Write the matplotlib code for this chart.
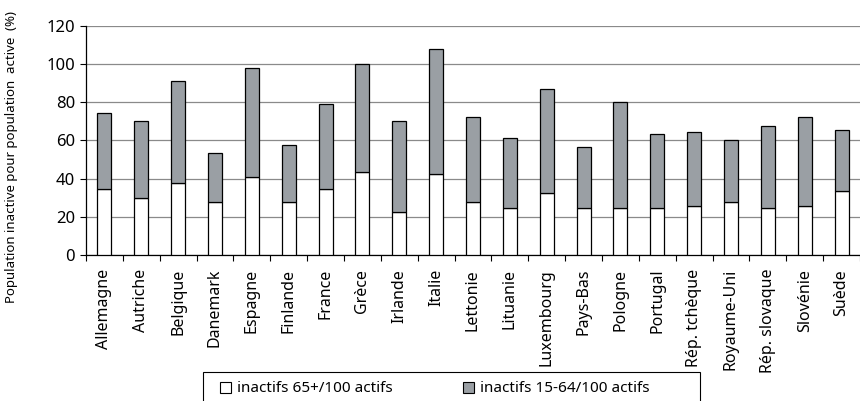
import matplotlib
matplotlib.use("Agg")
import matplotlib.pyplot as plt
from matplotlib.patches import Patch, Rectangle
import numpy as np

plt.rcParams['font.family'] = ['Noto Sans', 'DejaVu Sans']

countries = ["Allemagne", "Autriche", "Belgique", "Danemark", "Espagne", "Finlande",
             "France", "Grèce", "Irlande", "Italie", "Lettonie", "Lituanie",
             "Luxembourg", "Pays-Bas", "Pologne", "Portugal", "Rép. tchèque",
             "Royaume-Uni", "Rép. slovaque", "Slovénie", "Suède"]
# inactive people per 100 active, by age group
inactifs_65 = [34.4, 29.8, 37.8, 27.7, 41.0, 27.7, 34.4, 43.3, 22.3, 42.4, 27.7,
               24.4, 32.3, 24.4, 24.4, 24.4, 25.5, 27.7, 24.4, 25.5, 33.3]
total = [74.1, 70.0, 91.2, 53.2, 97.7, 57.7, 78.8, 100.1, 70.0, 107.6, 72.2,
         61.0, 86.7, 56.7, 79.9, 63.3, 64.4, 60.0, 67.7, 72.2, 65.6]
inactifs_15_64 = [t - a for t, a in zip(total, inactifs_65)]
series_labels = ["inactifs 65+/100 actifs", "inactifs 15-64/100 actifs"]

yticks = [0, 20, 40, 60, 80, 100, 120]
grey = "#9a9fa4"

W, H = 860, 401
fig = plt.figure(figsize=(W / 100, H / 100), dpi=100)
ax = fig.add_axes([86 / W, 1 - 255 / H, 1 - 86 / W, (255 - 25.7) / H])

x = np.arange(len(countries))
w = 0.38
ax.bar(x, inactifs_65, width=w, color="white", edgecolor="black", linewidth=0.9, zorder=3)
ax.bar(x, inactifs_15_64, width=w, bottom=inactifs_65, color=grey, edgecolor="black",
       linewidth=0.9, zorder=3)

ax.set_ylim(0, 120)
ax.set_xlim(-0.5, len(countries) - 0.5)
ax.set_yticks(yticks)
ax.yaxis.grid(True, color="#8a8a8a", linewidth=0.9, zorder=0)
ax.tick_params(axis="y", labelsize=12, length=4, width=0.8, direction="out", pad=4)

# tick marks between categories, labels centred on the bars
ax.set_xticks(np.arange(len(countries) + 1) - 0.5)
ax.set_xticklabels([])
ax.set_xticks(x, minor=True)
ax.set_xticklabels(countries, minor=True, rotation=90, fontsize=11.5)
ax.tick_params(axis="x", which="major", length=4, width=0.8, direction="out")
ax.tick_params(axis="x", which="minor", length=0, pad=10)

for side in ("top", "right"):
    ax.spines[side].set_visible(False)
for side in ("left", "bottom"):
    ax.spines[side].set_color("black")
    ax.spines[side].set_linewidth(0.9)

fig.text(12 / W, 1 - 157 / H, "Population inactive pour population  active  (%)",
         rotation=90, va="center", ha="center", fontsize=9.5)

# legend: framed box at the bottom, one entry per column
fig.add_artist(Rectangle((203 / W, -0.05), (700 - 203) / W, 0.05 + 1 - 372 / H,
                         transform=fig.transFigure, facecolor="white",
                         edgecolor="black", linewidth=0.8))
handles = [Patch(facecolor="white", edgecolor="black", linewidth=0.8),
           Patch(facecolor=grey, edgecolor="black", linewidth=0.8)]
for handle, label, x0 in zip(handles, series_labels, (220, 463)):
    fig.legend([handle], [label], loc="center left",
               bbox_to_anchor=(x0 / W, 1 - 389 / H), frameon=False, fontsize=11,
               handlelength=0.75, handleheight=0.75, handletextpad=0.35,
               borderpad=0, borderaxespad=0)

fig.savefig("out.png", dpi=100)
